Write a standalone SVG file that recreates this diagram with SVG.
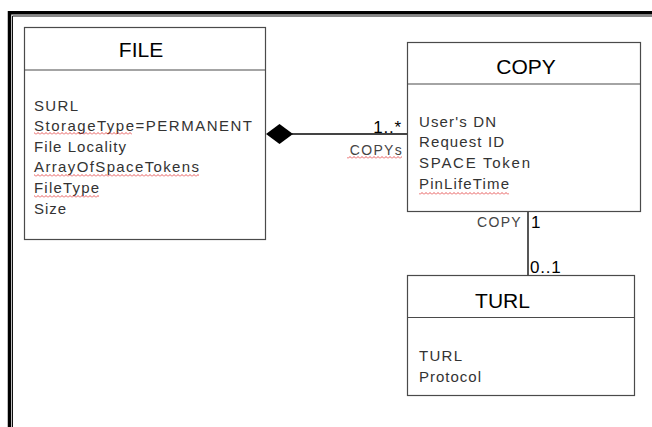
<svg xmlns="http://www.w3.org/2000/svg" width="652" height="427" viewBox="0 0 652 427">
  <style>
    .box { fill: #ffffff; stroke: #4a4a4a; stroke-width: 1.2; }
    .div { stroke: #4a4a4a; stroke-width: 1.2; }
    .title { font-family: "Liberation Sans", Arial, sans-serif; font-size: 21px; fill: #000000; text-anchor: middle; }
    .attr { font-family: "Liberation Sans", Arial, sans-serif; font-size: 15px; fill: #333333; }
    .mult { font-family: "Liberation Sans", Arial, sans-serif; font-size: 17px; fill: #000000; letter-spacing: 0.8px; }
    .role { font-family: "Liberation Sans", Arial, sans-serif; font-size: 14px; fill: #444444; letter-spacing: 1.3px; }
    .wire { stroke: #444444; stroke-width: 1.8; fill: none; }
    .squig { fill: url(#squiggle); }
  </style>
  <defs>
    <!-- spell-check style red wavy underline -->
    <pattern id="squiggle" x="0" y="0" width="4" height="3" patternUnits="userSpaceOnUse">
      <path d="M0,2.5 L2,0.5 L4,2.5" fill="none" stroke="#e03030" stroke-width="0.8"/>
    </pattern>
  </defs>

  <rect x="0" y="0" width="652" height="427" fill="#ffffff"/>

  <!-- page frame: thick outer rule and thin inner rule -->
  <path d="M652,12.75 H9.5 V427" fill="none" stroke="#000000" stroke-width="3.5"/>
  <path d="M652,16 H12.5 V427" fill="none" stroke="#111111" stroke-width="1"/>

  <!-- FILE class -->
  <g id="file">
    <rect class="box" x="24.5" y="27.5" width="241" height="212"/>
    <line class="div" x1="24.5" y1="70" x2="265.5" y2="70"/>
    <text class="title" x="141" y="57">FILE</text>
    <text class="attr" x="34" y="111" textLength="44" lengthAdjust="spacing">SURL</text>
    <text class="attr" x="34" y="131" textLength="218" lengthAdjust="spacing">StorageType=PERMANENT</text>
    <text class="attr" x="34" y="152" textLength="92" lengthAdjust="spacing">File Locality</text>
    <text class="attr" x="34" y="172" textLength="165" lengthAdjust="spacing">ArrayOfSpaceTokens</text>
    <text class="attr" x="34" y="193" textLength="65" lengthAdjust="spacing">FileType</text>
    <text class="attr" x="34" y="214" textLength="32" lengthAdjust="spacing">Size</text>
    <rect class="squig" x="34" y="132" width="98" height="3"/>
    <rect class="squig" x="34" y="174" width="165" height="3"/>
    <rect class="squig" x="34" y="195" width="65" height="3"/>
  </g>

  <!-- COPY class -->
  <g id="copy">
    <rect class="box" x="407.5" y="42.5" width="233" height="169"/>
    <line class="div" x1="407.5" y1="84" x2="640.5" y2="84"/>
    <text class="title" x="526" y="74">COPY</text>
    <text class="attr" x="419" y="127" textLength="77" lengthAdjust="spacing">User's DN</text>
    <text class="attr" x="419" y="147" textLength="85" lengthAdjust="spacing">Request ID</text>
    <text class="attr" x="419" y="168" textLength="111" lengthAdjust="spacing">SPACE Token</text>
    <text class="attr" x="419" y="189" textLength="90" lengthAdjust="spacing">PinLifeTime</text>
    <rect class="squig" x="419" y="192" width="90" height="3"/>
  </g>

  <!-- TURL class -->
  <g id="turl">
    <rect class="box" x="407.5" y="275.5" width="227" height="120"/>
    <line class="div" x1="407.5" y1="317.5" x2="634.5" y2="317.5"/>
    <text class="title" x="502.5" y="308">TURL</text>
    <text class="attr" x="419" y="361" textLength="43" lengthAdjust="spacing">TURL</text>
    <text class="attr" x="419" y="382" textLength="62" lengthAdjust="spacing">Protocol</text>
  </g>

  <!-- associations -->
  <g id="connectors">
    <!-- FILE composes COPYs -->
    <line class="wire" x1="292" y1="134" x2="407.5" y2="134"/>
    <polygon points="266,134 279.5,124 293,134 279.5,144" fill="#000000"/>
    <text class="mult" x="402" y="133" text-anchor="end">1..*</text>
    <text class="role" x="403" y="155" text-anchor="end">COPYs</text>
    <rect class="squig" x="347" y="156" width="55" height="3"/>

    <!-- COPY to TURL -->
    <line class="wire" x1="528" y1="212" x2="528" y2="275.5"/>
    <text class="role" x="522" y="226.5" text-anchor="end">COPY</text>
    <text class="mult" x="531" y="228">1</text>
    <text class="mult" x="530" y="273">0..1</text>
  </g>
</svg>
